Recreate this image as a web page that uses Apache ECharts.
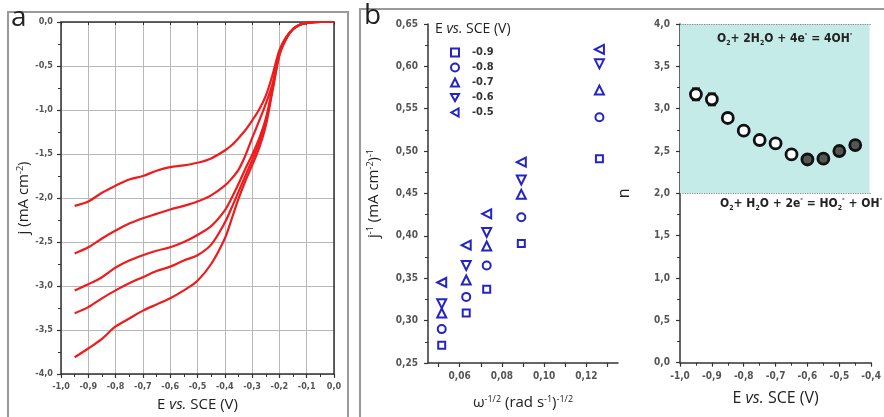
<!DOCTYPE html>
<html>
<head>
<meta charset="utf-8">
<script src="https://cdn.jsdelivr.net/npm/echarts@6/dist/echarts.min.js"></script>
<style>
  html, body { margin: 0; padding: 0; background: #fff; }
  #chart { width: 884px; height: 417px; }
</style>
</head>
<body>
<div id="chart"></div>
<script>
// ---- panel a : j vs E curves (5 rotation rates)
var potA = [-0.95,-0.9,-0.85,-0.8,-0.75,-0.7,-0.65,-0.6,-0.55,-0.5,-0.45,-0.4,-0.375,-0.35,-0.325,-0.3,-0.275,-0.25,-0.225,-0.2,-0.175,-0.15,-0.125,-0.1,-0.05,0];
var curve1 = [-2.09,-2.04,-1.94,-1.86,-1.79,-1.75,-1.69,-1.65,-1.63,-1.60,-1.55,-1.46,-1.40,-1.32,-1.23,-1.12,-1.00,-0.84,-0.60,-0.32,-0.17,-0.08,-0.03,-0.01,0,0];
var curve2 = [-2.63,-2.56,-2.46,-2.37,-2.29,-2.23,-2.18,-2.13,-2.09,-2.04,-1.97,-1.86,-1.78,-1.68,-1.52,-1.32,-1.13,-0.93,-0.70,-0.35,-0.18,-0.08,-0.03,-0.01,0,0];
var curve3 = [-3.05,-2.98,-2.90,-2.79,-2.71,-2.65,-2.60,-2.56,-2.50,-2.42,-2.32,-2.14,-2.00,-1.84,-1.67,-1.51,-1.33,-1.10,-0.74,-0.36,-0.18,-0.08,-0.03,-0.01,0,0];
var curve4 = [-3.31,-3.24,-3.14,-3.05,-2.97,-2.90,-2.83,-2.78,-2.71,-2.65,-2.53,-2.28,-2.11,-1.93,-1.75,-1.57,-1.38,-1.14,-0.76,-0.37,-0.19,-0.08,-0.03,-0.01,0,0];
var curve5 = [-3.81,-3.71,-3.60,-3.46,-3.37,-3.28,-3.21,-3.14,-3.05,-2.94,-2.75,-2.46,-2.24,-2.01,-1.81,-1.63,-1.44,-1.18,-0.78,-0.38,-0.19,-0.08,-0.03,-0.01,0,0];

// ---- panel b : Koutecky-Levich points
var omegaInv = [0.0515, 0.0631, 0.0728, 0.0892, 0.1262];
var kl09 = [0.271, 0.309, 0.337, 0.391, 0.491];
var kl08 = [0.290, 0.328, 0.365, 0.422, 0.540];
var kl07 = [0.309, 0.348, 0.388, 0.449, 0.572];
var kl06 = [0.320, 0.365, 0.404, 0.466, 0.603];
var kl05 = [0.345, 0.389, 0.426, 0.487, 0.620];
var klNames = ['-0.9', '-0.8', '-0.7', '-0.6', '-0.5'];
var klTicks = [0.05, 0.06, 0.07, 0.08, 0.09, 0.10, 0.11, 0.12, 0.13];
var klLabels = [0.06, 0.08, 0.10, 0.12];

// ---- right panel : electron number n
var nPot = [-0.95,-0.9,-0.85,-0.8,-0.75,-0.7,-0.65,-0.6,-0.55,-0.5,-0.45];
var nVal = [3.17, 3.11, 2.89, 2.74, 2.63, 2.59, 2.46, 2.40, 2.41, 2.50, 2.57];
var nErr = [0.07, 0.07, 0.03, 0.03, 0.03, 0.03, 0.03, 0.03, 0.03, 0.03, 0.03];

var chart = echarts.init(document.getElementById('chart'));

var narrow = "'Liberation Sans Narrow', 'DejaVu Sans Condensed', sans-serif";
var titleFont = "'Open Sans', sans-serif";
var axisCol = '#333';
var comma1 = function (v) { return v.toFixed(1).replace('.', ','); };
var comma2 = function (v) { return v.toFixed(2).replace('.', ','); };
var supRich = {
  sup: { fontSize: 9, verticalAlign: 'top', fontFamily: titleFont, color: '#222' },
  sub: { fontSize: 8, verticalAlign: 'bottom', fontFamily: titleFont, color: '#222' },
  i: { fontStyle: 'italic', fontSize: 15, fontFamily: titleFont, color: '#222' }
};

function zip(xs, ys) { return xs.map(function (x, i) { return [x, ys[i]]; }); }

function baseAxis(extra) {
  var o = {
    type: 'value',
    axisLine: { show: true, onZero: false, lineStyle: { color: axisCol, width: 1.5 } },
    axisTick: { show: true, length: 4, lineStyle: { color: axisCol, width: 1.2 } },
    minorTick: { show: true, splitNumber: 2, length: 3, lineStyle: { color: axisCol, width: 1 } },
    splitLine: { show: false },
    axisLabel: { fontFamily: narrow, fontWeight: 'bold', fontSize: 10, color: '#555' },
    nameLocation: 'middle',
    nameTextStyle: { fontFamily: titleFont, fontSize: 15, color: '#222', rich: supRich }
  };
  for (var k in extra) o[k] = extra[k];
  return o;
}

var curveColor = '#ee1c1c';
var curves = [curve1, curve2, curve3, curve4, curve5];
var lineSeries = curves.map(function (c) {
  return {
    type: 'line', xAxisIndex: 0, yAxisIndex: 0, data: zip(potA, c),
    smooth: 0.3, showSymbol: false, silent: true,
    lineStyle: { color: curveColor, width: 2.2 }
  };
});

var blue = '#2424c4';
var klSets = [kl09, kl08, kl07, kl06, kl05];
var klSymbols = ['rect', 'circle', 'triangle', 'triangle', 'triangle'];
var klRotate = [0, 0, 0, 180, 90];
var klSizes = [7, 8, 9, 9, 9];
var scatterSeries = klSets.map(function (s, i) {
  return {
    name: klNames[i], type: 'scatter', xAxisIndex: 2, yAxisIndex: 2,
    data: zip(omegaInv, s), symbol: klSymbols[i], symbolRotate: klRotate[i],
    symbolSize: klSizes[i],
    itemStyle: { color: '#fff', borderColor: blue, borderWidth: 2, opacity: 1 }
  };
});
var legendIcons = ['rect', 'circle', 'triangle',
  'path://M0,0 L10,0 L5,9 Z', 'path://M9,0 L9,10 L0,5 Z'];

var option = {
  animation: false,
  backgroundColor: '#fff',
  grid: [
    { left: 61, top: 22, width: 273, height: 354 },
    { left: 428, top: 24, width: 190, height: 339 },
    { left: 680, top: 24, width: 191.5, height: 338.7 }
  ],
  legend: {
    data: klNames.map(function (n, i) { return { name: n, icon: legendIcons[i] }; }),
    orient: 'vertical', left: 445, top: 42,
    itemWidth: 8, itemHeight: 8, itemGap: 4, selectedMode: false,
    itemStyle: { color: '#fff', borderColor: blue, borderWidth: 2, opacity: 1 },
    textStyle: { fontFamily: narrow, fontWeight: 'bold', fontSize: 11, color: '#333', padding: [0, 0, 0, 8] }
  },
  xAxis: [
    baseAxis({ gridIndex: 0, min: -1, max: 0, interval: 0.1,
      axisLabel: { fontFamily: narrow, fontWeight: 'bold', fontSize: 9, color: '#555', margin: 8, formatter: comma1 },
      splitLine: { show: true, lineStyle: { color: '#b8b8b8', width: 1 } },
      name: 'E {i|vs.} SCE (V)', nameGap: 23 }),
    baseAxis({ gridIndex: 0, position: 'top', min: -1, max: 0, interval: 0.1,
      axisTick: { show: true, inside: true, length: 3, lineStyle: { color: axisCol } },
      minorTick: { show: false }, axisLabel: { show: false } }),
    baseAxis({ gridIndex: 1, min: 0.045, max: 0.135,
      axisTick: { show: true, length: 4, customValues: klTicks, lineStyle: { color: axisCol, width: 1.2 } },
      minorTick: { show: false },
      axisLabel: { fontFamily: narrow, fontWeight: 'bold', fontSize: 10, color: '#555', margin: 8,
        customValues: klLabels, formatter: comma2 },
      name: 'ω{sup|-1/2} (rad s{sup|-1}){sup|-1/2}', nameGap: 32 }),
    baseAxis({ gridIndex: 2, min: -1, max: -0.4, interval: 0.1,
      axisLabel: { fontFamily: narrow, fontWeight: 'bold', fontSize: 10, color: '#555', margin: 9, formatter: comma1 },
      name: 'E {i|vs.} SCE (V)', nameGap: 28,
      nameTextStyle: { fontFamily: titleFont, fontSize: 16, color: '#222',
        rich: { i: { fontStyle: 'italic', fontSize: 16, fontFamily: titleFont, color: '#222' } } } })
  ],
  yAxis: [
    baseAxis({ gridIndex: 0, min: -4, max: 0, interval: 0.5,
      axisLabel: { fontFamily: narrow, fontWeight: 'bold', fontSize: 9, color: '#555', margin: 8, formatter: comma1 },
      splitLine: { show: true, lineStyle: { color: '#b8b8b8', width: 1 } },
      name: 'j (mA cm{sup|-2})', nameGap: 27 }),
    baseAxis({ gridIndex: 0, position: 'right', min: -4, max: 0, interval: 0.5,
      axisTick: { show: false }, minorTick: { show: false }, axisLabel: { show: false } }),
    baseAxis({ gridIndex: 1, min: 0.25, max: 0.65, interval: 0.05,
      axisLabel: { fontFamily: narrow, fontWeight: 'bold', fontSize: 10, color: '#555', margin: 10, formatter: comma2 },
      name: 'j{sup|-1} (mA cm{sup|-2}){sup|-1}', nameGap: 47 }),
    baseAxis({ gridIndex: 2, min: 0, max: 4, interval: 0.5,
      axisLabel: { fontFamily: narrow, fontWeight: 'bold', fontSize: 10, color: '#555', margin: 10, formatter: comma1 },
      name: 'n', nameGap: 48,
      nameTextStyle: { fontFamily: titleFont, fontSize: 16, color: '#222' } })
  ],
  series: lineSeries.concat(scatterSeries).concat([
    {
      type: 'custom', xAxisIndex: 3, yAxisIndex: 3, z: 3, silent: true,
      data: nPot.map(function (e, i) { return [e, nVal[i] - nErr[i], nVal[i] + nErr[i]]; }),
      renderItem: function (params, api) {
        var lo = api.coord([api.value(0), api.value(1)]);
        var hi = api.coord([api.value(0), api.value(2)]);
        var w = 4, st = { stroke: '#111', lineWidth: 2 };
        return { type: 'group', children: [
          { type: 'line', shape: { x1: lo[0], y1: lo[1], x2: hi[0], y2: hi[1] }, style: st },
          { type: 'line', shape: { x1: lo[0] - w, y1: lo[1], x2: lo[0] + w, y2: lo[1] }, style: st },
          { type: 'line', shape: { x1: hi[0] - w, y1: hi[1], x2: hi[0] + w, y2: hi[1] }, style: st }
        ] };
      }
    },
    {
      type: 'scatter', xAxisIndex: 3, yAxisIndex: 3, z: 4, symbolSize: 11,
      data: nPot.map(function (e, i) {
        return { value: [e, nVal[i]], itemStyle: { color: i >= 7 ? '#555' : '#fff' } };
      }),
      itemStyle: { borderColor: '#111', borderWidth: 2.8, opacity: 1 },
      markArea: {
        silent: true,
        itemStyle: { color: '#c5ebe9' },
        data: [[{ xAxis: -1, yAxis: 2 }, { xAxis: -0.405, yAxis: 4 }]]
      },
      markLine: {
        silent: true, symbol: 'none', label: { show: false },
        lineStyle: { color: '#888', type: 'dotted', width: 1.2 },
        data: [{ yAxis: 4 }, { yAxis: 2 }]
      }
    }
  ]),
  graphic: [
    { type: 'rect', shape: { x: 8, y: 12, width: 340, height: 420 }, style: { fill: 'none', stroke: '#9a9a9a', lineWidth: 2 } },
    { type: 'rect', shape: { x: 360, y: 9, width: 540, height: 420 }, style: { fill: 'none', stroke: '#9a9a9a', lineWidth: 2 } },
    { type: 'text', left: 11, top: 4, style: { text: 'a', fontSize: 28, fontFamily: titleFont, fill: '#222' } },
    { type: 'text', left: 364, top: 2, style: { text: 'b', fontSize: 28, fontFamily: titleFont, fill: '#222' } },
    { type: 'text', left: 435, top: 22, style: {
      text: 'E {i|vs.} SCE (V)', fontSize: 14, fontFamily: titleFont, fill: '#222',
      rich: { i: { fontStyle: 'italic', fontSize: 14, fontFamily: titleFont, fill: '#222' } } } },
    { type: 'text', left: 717, top: 31, z: 10, style: {
      text: '{n|O}{sub|2}{n|+ 2H}{sub|2}{n|O + 4e}{sup|-}{n| = 4OH}{sup|-}',
      rich: {
        n: { fontSize: 12, fontWeight: 'bold', fontFamily: narrow, fill: '#222', lineHeight: 16 },
        sub: { fontSize: 7, fontWeight: 'bold', fontFamily: narrow, fill: '#222', verticalAlign: 'bottom' },
        sup: { fontSize: 7, fontWeight: 'bold', fontFamily: narrow, fill: '#222', verticalAlign: 'top' }
      } } },
    { type: 'text', left: 720, top: 196, z: 10, style: {
      text: '{n|O}{sub|2}{n|+ H}{sub|2}{n|O + 2e}{sup|-}{n| = HO}{sub|2}{sup|-}{n| + OH}{sup|-}',
      rich: {
        n: { fontSize: 12, fontWeight: 'bold', fontFamily: narrow, fill: '#222', lineHeight: 16 },
        sub: { fontSize: 7, fontWeight: 'bold', fontFamily: narrow, fill: '#222', verticalAlign: 'bottom' },
        sup: { fontSize: 7, fontWeight: 'bold', fontFamily: narrow, fill: '#222', verticalAlign: 'top' }
      } } }
  ]
};

chart.setOption(option);
</script>
</body>
</html>
